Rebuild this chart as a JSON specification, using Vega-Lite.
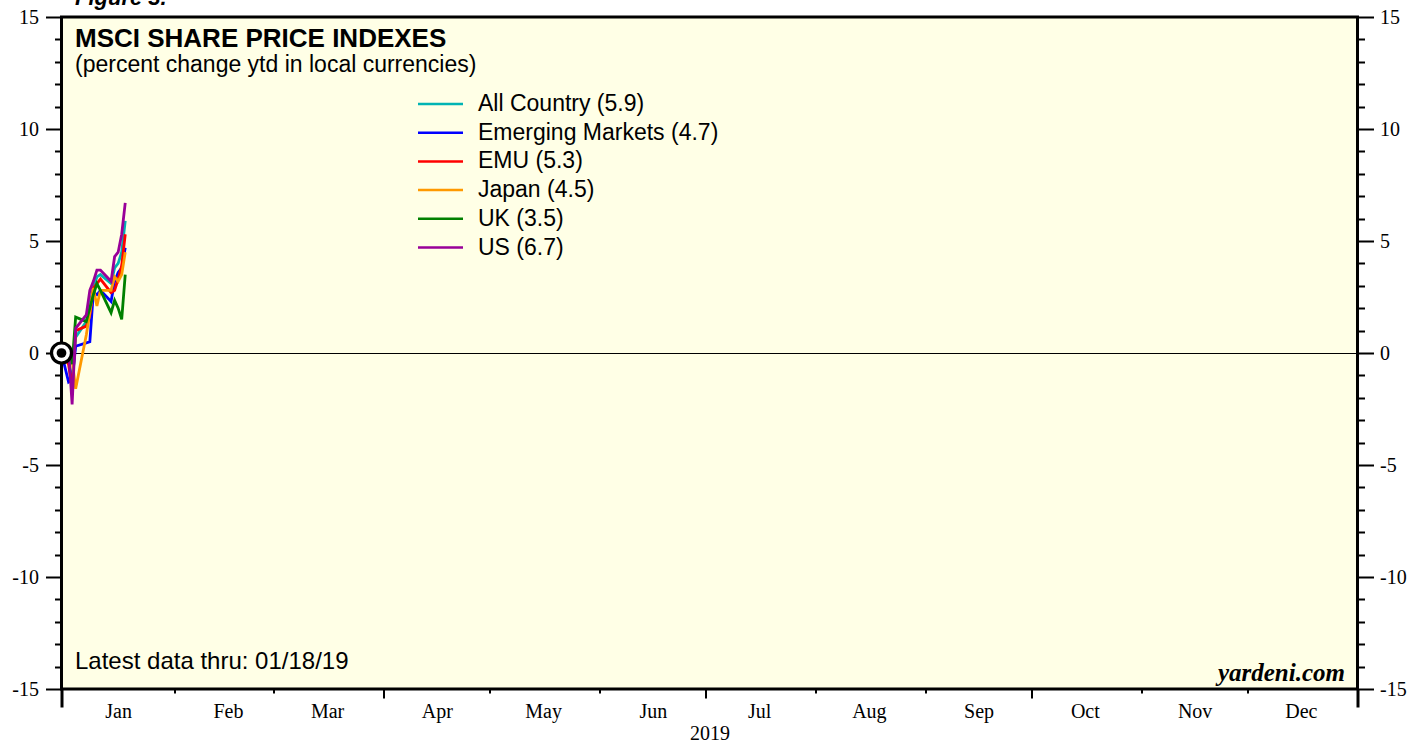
{
  "$schema": "https://vega.github.io/schema/vega-lite/v6.json",
  "width": 1296,
  "height": 672,
  "autosize": {"type": "none"},
  "padding": {"left": 61.5, "top": 17, "right": 65.5, "bottom": 60},
  "background": "white",
  "config": {
    "view": {"fill": "#FFFFE6", "stroke": "black", "strokeWidth": 3},
    "axis": {"grid": false, "domain": false, "labelFont": "Liberation Serif", "labelFontSize": 20, "labelColor": "black", "tickColor": "black", "titleFont": "Liberation Serif", "titleFontSize": 20, "titleFontWeight": "normal", "titleColor": "black", "labelOverlap": false, "labelFlush": false, "labelBound": false},
    "text": {"font": "Liberation Sans", "color": "black"}
  },
  "datasets": {
    "msci": [
      {"date": "2018-12-31", "series": "All Country (5.9)", "value": 0},
      {"date": "2019-01-02", "series": "All Country (5.9)", "value": -0.1},
      {"date": "2019-01-03", "series": "All Country (5.9)", "value": -1.5},
      {"date": "2019-01-04", "series": "All Country (5.9)", "value": 0.7},
      {"date": "2019-01-07", "series": "All Country (5.9)", "value": 1.4},
      {"date": "2019-01-08", "series": "All Country (5.9)", "value": 2.2},
      {"date": "2019-01-09", "series": "All Country (5.9)", "value": 2.9},
      {"date": "2019-01-10", "series": "All Country (5.9)", "value": 3.4},
      {"date": "2019-01-11", "series": "All Country (5.9)", "value": 3.5},
      {"date": "2019-01-14", "series": "All Country (5.9)", "value": 3.1},
      {"date": "2019-01-15", "series": "All Country (5.9)", "value": 3.8},
      {"date": "2019-01-16", "series": "All Country (5.9)", "value": 4.0},
      {"date": "2019-01-17", "series": "All Country (5.9)", "value": 4.5},
      {"date": "2019-01-18", "series": "All Country (5.9)", "value": 5.9},
      {"date": "2018-12-31", "series": "Emerging Markets (4.7)", "value": 0},
      {"date": "2019-01-02", "series": "Emerging Markets (4.7)", "value": -1.3},
      {"date": "2019-01-03", "series": "Emerging Markets (4.7)", "value": -1.2},
      {"date": "2019-01-04", "series": "Emerging Markets (4.7)", "value": 0.3},
      {"date": "2019-01-07", "series": "Emerging Markets (4.7)", "value": 0.45},
      {"date": "2019-01-08", "series": "Emerging Markets (4.7)", "value": 0.5},
      {"date": "2019-01-09", "series": "Emerging Markets (4.7)", "value": 2.7},
      {"date": "2019-01-10", "series": "Emerging Markets (4.7)", "value": 2.6},
      {"date": "2019-01-11", "series": "Emerging Markets (4.7)", "value": 2.8},
      {"date": "2019-01-14", "series": "Emerging Markets (4.7)", "value": 2.3},
      {"date": "2019-01-15", "series": "Emerging Markets (4.7)", "value": 3.2},
      {"date": "2019-01-16", "series": "Emerging Markets (4.7)", "value": 3.6},
      {"date": "2019-01-17", "series": "Emerging Markets (4.7)", "value": 3.8},
      {"date": "2019-01-18", "series": "Emerging Markets (4.7)", "value": 4.7},
      {"date": "2018-12-31", "series": "EMU (5.3)", "value": 0},
      {"date": "2019-01-02", "series": "EMU (5.3)", "value": -0.5},
      {"date": "2019-01-03", "series": "EMU (5.3)", "value": -1.6},
      {"date": "2019-01-04", "series": "EMU (5.3)", "value": 1.0},
      {"date": "2019-01-07", "series": "EMU (5.3)", "value": 1.2},
      {"date": "2019-01-08", "series": "EMU (5.3)", "value": 1.7},
      {"date": "2019-01-09", "series": "EMU (5.3)", "value": 2.9},
      {"date": "2019-01-10", "series": "EMU (5.3)", "value": 3.1},
      {"date": "2019-01-11", "series": "EMU (5.3)", "value": 3.3},
      {"date": "2019-01-14", "series": "EMU (5.3)", "value": 2.7},
      {"date": "2019-01-15", "series": "EMU (5.3)", "value": 2.8},
      {"date": "2019-01-16", "series": "EMU (5.3)", "value": 3.3},
      {"date": "2019-01-17", "series": "EMU (5.3)", "value": 3.9},
      {"date": "2019-01-18", "series": "EMU (5.3)", "value": 5.3},
      {"date": "2018-12-31", "series": "Japan (4.5)", "value": 0},
      {"date": "2019-01-02", "series": "Japan (4.5)", "value": 0.0},
      {"date": "2019-01-03", "series": "Japan (4.5)", "value": -0.3},
      {"date": "2019-01-04", "series": "Japan (4.5)", "value": -1.6},
      {"date": "2019-01-07", "series": "Japan (4.5)", "value": 0.8},
      {"date": "2019-01-08", "series": "Japan (4.5)", "value": 1.8},
      {"date": "2019-01-09", "series": "Japan (4.5)", "value": 2.9},
      {"date": "2019-01-10", "series": "Japan (4.5)", "value": 2.1},
      {"date": "2019-01-11", "series": "Japan (4.5)", "value": 2.8},
      {"date": "2019-01-14", "series": "Japan (4.5)", "value": 2.8},
      {"date": "2019-01-15", "series": "Japan (4.5)", "value": 3.4},
      {"date": "2019-01-16", "series": "Japan (4.5)", "value": 3.2},
      {"date": "2019-01-17", "series": "Japan (4.5)", "value": 3.5},
      {"date": "2019-01-18", "series": "Japan (4.5)", "value": 4.5},
      {"date": "2018-12-31", "series": "UK (3.5)", "value": 0},
      {"date": "2019-01-02", "series": "UK (3.5)", "value": 0.1},
      {"date": "2019-01-03", "series": "UK (3.5)", "value": -0.5},
      {"date": "2019-01-04", "series": "UK (3.5)", "value": 1.6},
      {"date": "2019-01-07", "series": "UK (3.5)", "value": 1.4},
      {"date": "2019-01-08", "series": "UK (3.5)", "value": 2.0},
      {"date": "2019-01-09", "series": "UK (3.5)", "value": 2.6},
      {"date": "2019-01-10", "series": "UK (3.5)", "value": 3.1},
      {"date": "2019-01-11", "series": "UK (3.5)", "value": 2.8},
      {"date": "2019-01-14", "series": "UK (3.5)", "value": 1.8},
      {"date": "2019-01-15", "series": "UK (3.5)", "value": 2.35},
      {"date": "2019-01-16", "series": "UK (3.5)", "value": 2.0},
      {"date": "2019-01-17", "series": "UK (3.5)", "value": 1.5},
      {"date": "2019-01-18", "series": "UK (3.5)", "value": 3.5},
      {"date": "2018-12-31", "series": "US (6.7)", "value": 0},
      {"date": "2019-01-02", "series": "US (6.7)", "value": 0.1},
      {"date": "2019-01-03", "series": "US (6.7)", "value": -2.3},
      {"date": "2019-01-04", "series": "US (6.7)", "value": 1.1},
      {"date": "2019-01-07", "series": "US (6.7)", "value": 1.7},
      {"date": "2019-01-08", "series": "US (6.7)", "value": 2.8},
      {"date": "2019-01-09", "series": "US (6.7)", "value": 3.2},
      {"date": "2019-01-10", "series": "US (6.7)", "value": 3.7},
      {"date": "2019-01-11", "series": "US (6.7)", "value": 3.7},
      {"date": "2019-01-14", "series": "US (6.7)", "value": 3.2},
      {"date": "2019-01-15", "series": "US (6.7)", "value": 4.3},
      {"date": "2019-01-16", "series": "US (6.7)", "value": 4.5},
      {"date": "2019-01-17", "series": "US (6.7)", "value": 5.3},
      {"date": "2019-01-18", "series": "US (6.7)", "value": 6.7}
    ]
  },
  "layer": [
    {
      "data": {"values": [{}]},
      "mark": {"type": "rule", "color": "black", "strokeWidth": 1, "yOffset": 0.5},
      "encoding": {
        "y": {"datum": 0, "type": "quantitative", "axis": {"orient": "right", "title": null, "values": [-15,-14,-13,-12,-11,-10,-9,-8,-7,-6,-5,-4,-3,-2,-1,0,1,2,3,4,5,6,7,8,9,10,11,12,13,14,15], "tickSize": {"condition": {"test": "datum.value % 5 === 0", "value": 16}, "value": 7}, "tickWidth": 2, "labelExpr": "datum.value % 5 === 0 ? '' + datum.value : ''", "labelPadding": 6}}
      }
    },
    {
      "data": {"name": "msci"},
      "mark": {"type": "line", "strokeWidth": 2.8},
      "encoding": {
        "x": {
          "field": "date", "type": "temporal",
          "scale": {"type": "utc", "domain": [{"year": 2018, "month": 12, "date": 31, "utc": true}, {"year": 2020, "month": 1, "date": 1, "utc": true}]},
          "axis": {
            "orient": "bottom",
            "title": "2019",
            "values": [
              {"year": 2019, "month": 1, "date": 16, "utc": true},
              {"year": 2019, "month": 2, "date": 16, "utc": true},
              {"year": 2019, "month": 3, "date": 16, "utc": true},
              {"year": 2019, "month": 4, "date": 16, "utc": true},
              {"year": 2019, "month": 5, "date": 16, "utc": true},
              {"year": 2019, "month": 6, "date": 16, "utc": true},
              {"year": 2019, "month": 7, "date": 16, "utc": true},
              {"year": 2019, "month": 8, "date": 16, "utc": true},
              {"year": 2019, "month": 9, "date": 16, "utc": true},
              {"year": 2019, "month": 10, "date": 16, "utc": true},
              {"year": 2019, "month": 11, "date": 16, "utc": true},
              {"year": 2019, "month": 12, "date": 16, "utc": true}
            ],
            "ticks": false,
            "labelExpr": "utcFormat(datum.value, '%b')",
            "labelPadding": 12,
            "titlePadding": 2
          }
        },
        "y": {
          "field": "value", "type": "quantitative",
          "scale": {"domain": [-15, 15], "nice": false, "zero": false},
          "axis": {"orient": "left", "title": null, "values": [-15,-14,-13,-12,-11,-10,-9,-8,-7,-6,-5,-4,-3,-2,-1,0,1,2,3,4,5,6,7,8,9,10,11,12,13,14,15], "tickSize": {"condition": {"test": "datum.value % 5 === 0", "value": 16}, "value": 7}, "tickWidth": 2, "labelExpr": "datum.value % 5 === 0 ? '' + datum.value : ''", "labelPadding": 7}
        },
        "color": {
          "field": "series", "type": "nominal",
          "scale": {"domain": ["All Country (5.9)", "Emerging Markets (4.7)", "EMU (5.3)", "Japan (4.5)", "UK (3.5)", "US (6.7)"], "range": ["#00B4B4", "#0000FF", "#FF0000", "#FF9900", "#008000", "#990099"]},
          "legend": {"title": null, "orient": "none", "legendX": 367.5, "legendY": 75.5, "symbolType": "M-4,0H4", "symbolSize": 126.6, "symbolStrokeWidth": 2.5, "symbolOpacity": 1, "labelFont": "Liberation Sans", "labelFontSize": 23, "labelColor": "black", "labelOffset": 26, "rowPadding": 4.7, "padding": 0, "labelLimit": 400}
        }
      }
    },
    {
      "data": {"values": [{}]},
      "mark": {"type": "point", "shape": "circle", "filled": true, "fill": "white", "stroke": "black", "strokeWidth": 3.2, "size": 400, "opacity": 1},
      "encoding": {
        "x": {"datum": {"year": 2018, "month": 12, "date": 31, "utc": true}, "type": "temporal",
          "axis": {
            "orient": "bottom", "title": null, "labels": false,
            "values": [
              {"year": 2019, "month": 2, "date": 1, "utc": true},
              {"year": 2019, "month": 3, "date": 1, "utc": true},
              {"year": 2019, "month": 4, "date": 1, "utc": true},
              {"year": 2019, "month": 5, "date": 1, "utc": true},
              {"year": 2019, "month": 6, "date": 1, "utc": true},
              {"year": 2019, "month": 7, "date": 1, "utc": true},
              {"year": 2019, "month": 8, "date": 1, "utc": true},
              {"year": 2019, "month": 9, "date": 1, "utc": true},
              {"year": 2019, "month": 10, "date": 1, "utc": true},
              {"year": 2019, "month": 11, "date": 1, "utc": true},
              {"year": 2019, "month": 12, "date": 1, "utc": true}
            ],
            "tickSize": {"condition": {"test": "utcmonth(datum.value) % 3 === 0", "value": 9}, "value": 4},
            "tickWidth": 2
          }
        },
        "y": {"datum": 0, "type": "quantitative", "axis": null}
      }
    },
    {
      "data": {"values": [{}]},
      "mark": {"type": "point", "shape": "circle", "filled": true, "fill": "black", "strokeWidth": 0, "size": 95, "opacity": 1},
      "encoding": {
        "x": {"datum": {"year": 2018, "month": 12, "date": 31, "utc": true}, "type": "temporal",
          "axis": {
            "orient": "bottom", "title": null, "labels": false,
            "values": [
              {"year": 2018, "month": 12, "date": 31, "utc": true},
              {"year": 2020, "month": 1, "date": 1, "utc": true}
            ],
            "tickSize": 18,
            "tickWidth": 3
          }
        },
        "y": {"datum": 0, "type": "quantitative", "axis": null}
      }
    },
    {
      "data": {"values": [{}]},
      "mark": {"type": "text", "text": "Figure 3.", "align": "left", "baseline": "alphabetic", "dx": 13.5, "dy": -12, "font": "Liberation Sans", "fontSize": 22, "fontWeight": "bold", "fontStyle": "italic"},
      "encoding": {
        "x": {"datum": {"year": 2018, "month": 12, "date": 31, "utc": true}, "type": "temporal", "axis": null},
        "y": {"datum": 15, "type": "quantitative", "axis": null}
      }
    },
    {
      "data": {"values": [{}]},
      "mark": {"type": "text", "text": "MSCI SHARE PRICE INDEXES", "align": "left", "baseline": "alphabetic", "dx": 13.5, "dy": 29.7, "font": "Liberation Sans", "fontSize": 26, "fontWeight": "bold"},
      "encoding": {
        "x": {"datum": {"year": 2018, "month": 12, "date": 31, "utc": true}, "type": "temporal", "axis": null},
        "y": {"datum": 15, "type": "quantitative", "axis": null}
      }
    },
    {
      "data": {"values": [{}]},
      "mark": {"type": "text", "text": "(percent change ytd in local currencies)", "align": "left", "baseline": "alphabetic", "dx": 13.5, "dy": 55, "font": "Liberation Sans", "fontSize": 23},
      "encoding": {
        "x": {"datum": {"year": 2018, "month": 12, "date": 31, "utc": true}, "type": "temporal", "axis": null},
        "y": {"datum": 15, "type": "quantitative", "axis": null}
      }
    },
    {
      "data": {"values": [{}]},
      "mark": {"type": "text", "text": "Latest data thru: 01/18/19", "align": "left", "baseline": "alphabetic", "dx": 13.5, "dy": -20, "font": "Liberation Sans", "fontSize": 24},
      "encoding": {
        "x": {"datum": {"year": 2018, "month": 12, "date": 31, "utc": true}, "type": "temporal", "axis": null},
        "y": {"datum": -15, "type": "quantitative", "axis": null}
      }
    },
    {
      "data": {"values": [{}]},
      "mark": {"type": "text", "text": "yardeni.com", "align": "right", "baseline": "alphabetic", "dx": -12.5, "dy": -8, "font": "Liberation Serif", "fontSize": 25, "fontWeight": "bold", "fontStyle": "italic"},
      "encoding": {
        "x": {"datum": {"year": 2020, "month": 1, "date": 1, "utc": true}, "type": "temporal", "axis": null},
        "y": {"datum": -15, "type": "quantitative", "axis": null}
      }
    }
  ],
  "resolve": {"axis": {"x": "independent", "y": "independent"}}
}
